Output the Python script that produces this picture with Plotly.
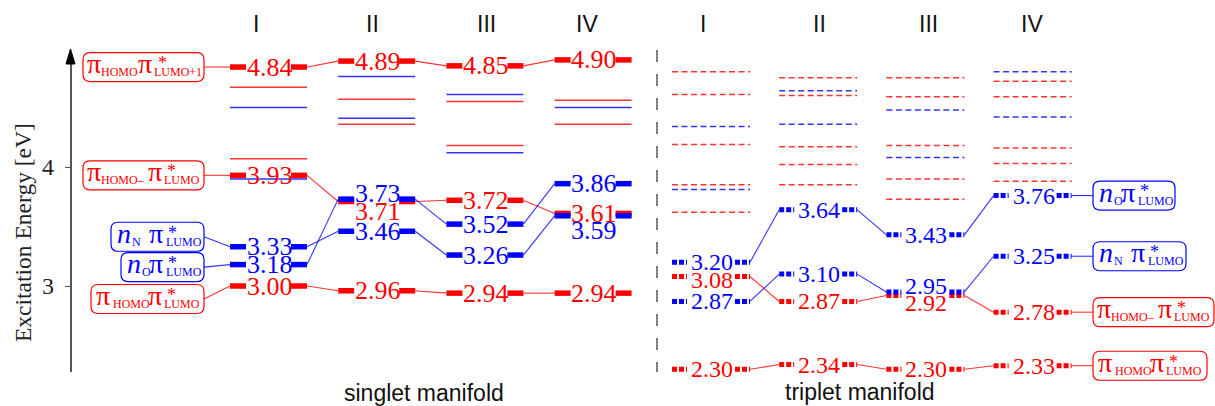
import plotly.graph_objects as go

# ---------------- data ----------------
columns = ["I", "II", "III", "IV"]

# singlet manifold: labelled (tracked) states
s_pi_pi_l1 = [4.84, 4.89, 4.85, 4.90]   # pi_HOMO pi*_LUMO+1
s_pim1_pi = [3.93, 3.71, 3.72, 3.61]    # pi_HOMO- pi*_LUMO
s_nN_pi = [3.33, 3.46, 3.26, 3.59]      # n_N pi*_LUMO
s_nO_pi = [3.18, 3.73, 3.52, 3.86]      # n_O pi*_LUMO
s_pi_pi = [3.00, 2.96, 2.94, 2.94]      # pi_HOMO pi*_LUMO
# singlet manifold: other states
s_other_red = [[4.67, 4.07], [4.57, 4.36], [4.55, 4.18], [4.56, 4.36]]
s_other_blue = [[4.50, 3.90], [4.76, 4.41], [4.61, 4.12], [4.50]]

# triplet manifold: labelled states
t_nO_pi = [3.20, 3.64, 3.43, 3.76]
t_nN_pi = [2.87, 3.10, 2.95, 3.25]
t_pim1_pi = [3.08, 2.87, 2.92, 2.78]
t_pi_pi = [2.30, 2.34, 2.30, 2.33]
# triplet manifold: other states
t_other_red = [[4.80, 4.61, 4.19, 3.85, 3.62],
               [4.75, 4.60, 4.17, 4.02, 3.85],
               [4.75, 4.59, 4.18, 3.90, 3.73],
               [4.72, 4.59, 4.16, 4.03, 3.88]]
t_other_blue = [[4.34, 3.81], [4.64, 4.36], [4.48, 4.08], [4.80, 4.42]]

y_ticks = [3, 4]
y_title = "Excitation Energy [eV]"
manifold_titles = ["singlet manifold", "triplet manifold"]

# ---------------- layout helpers ----------------
W, H = 1215, 406
PX_PER_EV = 119.0
Y3_PX = 286.0


def ev(py):
    return 3.0 + (Y3_PX - py) / PX_PER_EV


def px_of(e):
    return Y3_PX - (e - 3.0) * PX_PER_EV


RED, BLUE = "#ff0000", "#0000ff"
RED_THIN, BLUE_THIN = "rgba(255,0,0,0.8)", "rgba(0,0,255,0.8)"
SERIF = "Liberation Serif, Times New Roman, serif"
SANS = "Liberation Sans, Arial, sans-serif"

S_X0, S_DX, S_HALF, S_BAR = 268.5, 108.2, 38.5, 16
T_X0, T_DX, T_HALF, T_BAR = 711.0, 107.2, 39.0, 15
s_xc = [S_X0 + i * S_DX for i in range(len(columns))]
t_xc = [T_X0 + i * T_DX for i in range(len(columns))]


def level_bars(xcs, vals, half, blen):
    xs, ys = [], []
    for xc, v in zip(xcs, vals):
        xs += [xc - half, xc - half + blen, None, xc + half - blen, xc + half, None]
        ys += [v, v, None, v, v, None]
    return xs, ys


def thin_levels(xcs, nested, half):
    xs, ys = [], []
    for xc, vals in zip(xcs, nested):
        for v in vals:
            xs += [xc - half, xc + half, None]
            ys += [v, v, None]
    return xs, ys


def links(xcs, vals, half):
    xs, ys = [], []
    for i in range(len(vals) - 1):
        xs += [xcs[i] + half, xcs[i + 1] - half, None]
        ys += [vals[i], vals[i + 1], None]
    return xs, ys


def merge(*parts):
    xs, ys = [], []
    for px, py in parts:
        xs += px
        ys += py
    return xs, ys


fig = go.Figure()


def add_lines(xy, color, width, dash=None):
    line = dict(color=color, width=width)
    if dash:
        line["dash"] = dash
    fig.add_trace(go.Scatter(x=xy[0], y=xy[1], mode="lines", line=line,
                             hoverinfo="skip", showlegend=False))


# state boxes: (values, layout key, left px, width px, offset px of box centre from level, colour)
BOX_H = 29
left_boxes = [
    (s_pi_pi_l1, "A", 83, 121, 0, RED),
    (s_pim1_pi, "B", 83, 121, 0, RED),
    (s_nN_pi, "C", 111, 93, -10, BLUE),
    (s_nO_pi, "D", 121, 83, 2.5, BLUE),
    (s_pi_pi, "E", 91, 113, 13, RED),
]
right_boxes = [
    (t_nO_pi, "D", 1093, 82, 0, BLUE),
    (t_nN_pi, "C", 1093, 93, 0, BLUE),
    (t_pim1_pi, "B", 1093, 121, 0, RED),
    (t_pi_pi, "E", 1093, 114, 0, RED),
]

# connectors from boxes to levels
box_links_red, box_links_blue = ([], []), ([], [])
for vals, key, left, wid, off, col in left_boxes:
    tgt = box_links_red if col == RED else box_links_blue
    cy = ev(px_of(vals[0]) + off)
    tgt[0].extend([left + wid, s_xc[0] - S_HALF, None])
    tgt[1].extend([cy, vals[0], None])
for vals, key, left, wid, off, col in right_boxes:
    tgt = box_links_red if col == RED else box_links_blue
    tgt[0].extend([t_xc[-1] + T_HALF, left, None])
    tgt[1].extend([vals[-1], vals[-1], None])

# thin singlet levels
add_lines(thin_levels(s_xc, s_other_red, S_HALF), RED_THIN, 1.5)
add_lines(thin_levels(s_xc, s_other_blue, S_HALF), BLUE_THIN, 1.5)
# dashed triplet levels
add_lines(thin_levels(t_xc, t_other_red, T_HALF), RED_THIN, 1.5, "6px,3.5px")
add_lines(thin_levels(t_xc, t_other_blue, T_HALF), BLUE_THIN, 1.5, "6px,3.5px")
# connectors
add_lines(merge(links(s_xc, s_pi_pi_l1, S_HALF), links(s_xc, s_pim1_pi, S_HALF),
                links(s_xc, s_pi_pi, S_HALF), links(t_xc, t_pim1_pi, T_HALF),
                links(t_xc, t_pi_pi, T_HALF), box_links_red), RED_THIN, 1.1)
add_lines(merge(links(s_xc, s_nN_pi, S_HALF), links(s_xc, s_nO_pi, S_HALF),
                links(t_xc, t_nO_pi, T_HALF), links(t_xc, t_nN_pi, T_HALF),
                box_links_blue), BLUE_THIN, 1.1)
# thick bars
add_lines(merge(level_bars(s_xc, s_pi_pi_l1, S_HALF, S_BAR), level_bars(s_xc, s_pim1_pi, S_HALF, S_BAR),
                level_bars(s_xc, s_pi_pi, S_HALF, S_BAR)), RED, 5.5)
add_lines(merge(level_bars(s_xc, s_nN_pi, S_HALF, S_BAR), level_bars(s_xc, s_nO_pi, S_HALF, S_BAR)), BLUE, 5.5)
add_lines(merge(level_bars(t_xc, t_pim1_pi, T_HALF, T_BAR), level_bars(t_xc, t_pi_pi, T_HALF, T_BAR)),
          RED, 5, "5px,2px")
add_lines(merge(level_bars(t_xc, t_nO_pi, T_HALF, T_BAR), level_bars(t_xc, t_nN_pi, T_HALF, T_BAR)),
          BLUE, 5, "5px,2px")

# dummy trace for the energy axis
fig.add_trace(go.Scatter(x=[None], y=[None], yaxis="y2", showlegend=False, hoverinfo="skip"))

annotations = []
shapes = []

# value labels
label_shift = {("s_pim1", 1): -10, ("s_nO", 1): 6, ("s_nN", 3): -15,
               ("t_nN", 2): 6, ("t_pim1", 2): -7, ("t_pim1", 0): -4}
series = [("s_pi_l1", s_xc, s_pi_pi_l1, RED, 26), ("s_pim1", s_xc, s_pim1_pi, RED, 26),
          ("s_nN", s_xc, s_nN_pi, BLUE, 26), ("s_nO", s_xc, s_nO_pi, BLUE, 26),
          ("s_pi", s_xc, s_pi_pi, RED, 26),
          ("t_nO", t_xc, t_nO_pi, BLUE, 24), ("t_nN", t_xc, t_nN_pi, BLUE, 24),
          ("t_pim1", t_xc, t_pim1_pi, RED, 24), ("t_pi", t_xc, t_pi_pi, RED, 24)]
for key, xcs, vals, col, fs in series:
    for i, (xc, v) in enumerate(zip(xcs, vals)):
        annotations.append(dict(x=xc + 1, y=v, text=f"{v:.2f}", showarrow=False,
                                xanchor="center", yanchor="middle",
                                yshift=label_shift.get((key, i), 0),
                                font=dict(family=SERIF, size=fs, color=col)))

# box label pieces: (text, dx, baseline offset px, font size)
BIG, SUB, STAR = 28, 12, 18
piece_layouts = {
    "A": [("π", 3, 6, BIG), ("HOMO", 17, 9, SUB), ("π", 54, 6, BIG), ("*", 74, 2, STAR), ("LUMO+1", 70, 9, SUB)],
    "B": [("π", 3, 6, BIG), ("HOMO–", 17, 9, SUB), ("π", 64, 6, BIG), ("*", 83, 2, STAR), ("LUMO", 80, 9, SUB)],
    "C": [("<i>n</i>", 5, 6, BIG), ("N", 20, 9, SUB), ("π", 37, 6, BIG), ("*", 56, 2, STAR), ("LUMO", 54, 9, SUB)],
    "D": [("<i>n</i>", 5, 6, BIG), ("O", 20, 9, SUB), ("π", 27, 6, BIG), ("*", 46, 2, STAR), ("LUMO", 44, 9, SUB)],
    "E": [("π", 4, 6, BIG), ("HOMO", 21, 9, SUB), ("π", 56, 6, BIG), ("*", 75, 2, STAR), ("LUMO", 72, 9, SUB)],
}


def rounded_box(x0, x1, cy_px, h, r, color):
    y0p, y1p = cy_px - h / 2, cy_px + h / 2
    Y0, Y1 = ev(y0p), ev(y1p)
    Y0r, Y1r = ev(y0p + r), ev(y1p - r)
    path = (f"M {x0 + r},{Y0} L {x1 - r},{Y0} Q {x1},{Y0} {x1},{Y0r} L {x1},{Y1r} "
            f"Q {x1},{Y1} {x1 - r},{Y1} L {x0 + r},{Y1} Q {x0},{Y1} {x0},{Y1r} "
            f"L {x0},{Y0r} Q {x0},{Y0} {x0 + r},{Y0} Z")
    return dict(type="path", path=path, xref="x", yref="y",
                line=dict(color=color, width=1.2), fillcolor="white", layer="above")


def add_box(vals_e, key, left, wid, off, col):
    cy = px_of(vals_e) + off
    shapes.append(rounded_box(left, left + wid, cy, BOX_H, 7, col))
    for text, dx, base, fs in piece_layouts[key]:
        centre = cy + base - 0.3375 * fs
        annotations.append(dict(x=left + dx, y=ev(centre), text=text, showarrow=False,
                                xanchor="left", yanchor="middle", borderpad=0,
                                font=dict(family=SERIF, size=fs, color=col)))


for vals, key, left, wid, off, col in left_boxes:
    add_box(vals[0], key, left, wid, off, col)
for vals, key, left, wid, off, col in right_boxes:
    add_box(vals[-1], key, left, wid, off, col)

# column headers
header_x = [256, 372, 486, 587, 703, 819, 928, 1032]
for hx, name in zip(header_x, columns + columns):
    annotations.append(dict(x=hx, y=ev(24), text=name, showarrow=False, xanchor="center",
                            yanchor="middle", font=dict(family=SANS, size=23, color="#111")))
# manifold titles
for tx, ty, name in zip([424, 860], [393, 392], manifold_titles):
    annotations.append(dict(x=tx, y=ev(ty), text=name, showarrow=False, xanchor="center",
                            yanchor="middle", font=dict(family=SANS, size=23, color="#111")))
# axis title
annotations.append(dict(x=23, y=ev(233), text=y_title, showarrow=False, textangle=-90,
                        xanchor="center", yanchor="middle",
                        font=dict(family=SERIF, size=23.5, color="#222")))

# arrow head on energy axis
AX_X = 70.5
shapes.append(dict(type="path", xref="x", yref="y",
                   path=f"M {AX_X - 4.5},{ev(64)} L {AX_X + 4.5},{ev(64)} L {AX_X},{ev(49)} Z",
                   fillcolor="black", line=dict(color="black", width=1)))
# separator between manifolds
shapes.append(dict(type="line", xref="x", yref="y", x0=657, x1=657, y0=ev(50), y1=ev(372),
                   line=dict(color="#555", width=1.5, dash="12px,12px")))

fig.update_layout(
    width=W, height=H, margin=dict(l=0, r=0, t=0, b=0),
    paper_bgcolor="white", plot_bgcolor="rgba(0,0,0,0)",
    xaxis=dict(range=[0, W], visible=False, fixedrange=True),
    yaxis=dict(range=[ev(H), ev(0)], visible=False, fixedrange=True),
    yaxis2=dict(domain=[(H - 372) / H, (H - 62) / H], range=[ev(372), ev(62)],
                anchor="free", position=AX_X / W,
                showline=True, linecolor="#555", linewidth=1.5,
                ticks="outside", ticklen=5, tickcolor="#555", tickwidth=1.2,
                tickvals=y_ticks, ticktext=[str(t) for t in y_ticks],
                ticklabelstandoff=6,
                tickfont=dict(family=SERIF, size=24, color="#222"),
                showgrid=False, zeroline=False, fixedrange=True),
    annotations=annotations, shapes=shapes, showlegend=False,
)

fig.write_html("out.html", config={"displayModeBar": False},
               post_script="document.body.style.margin='0px';document.body.style.overflow='hidden';")
